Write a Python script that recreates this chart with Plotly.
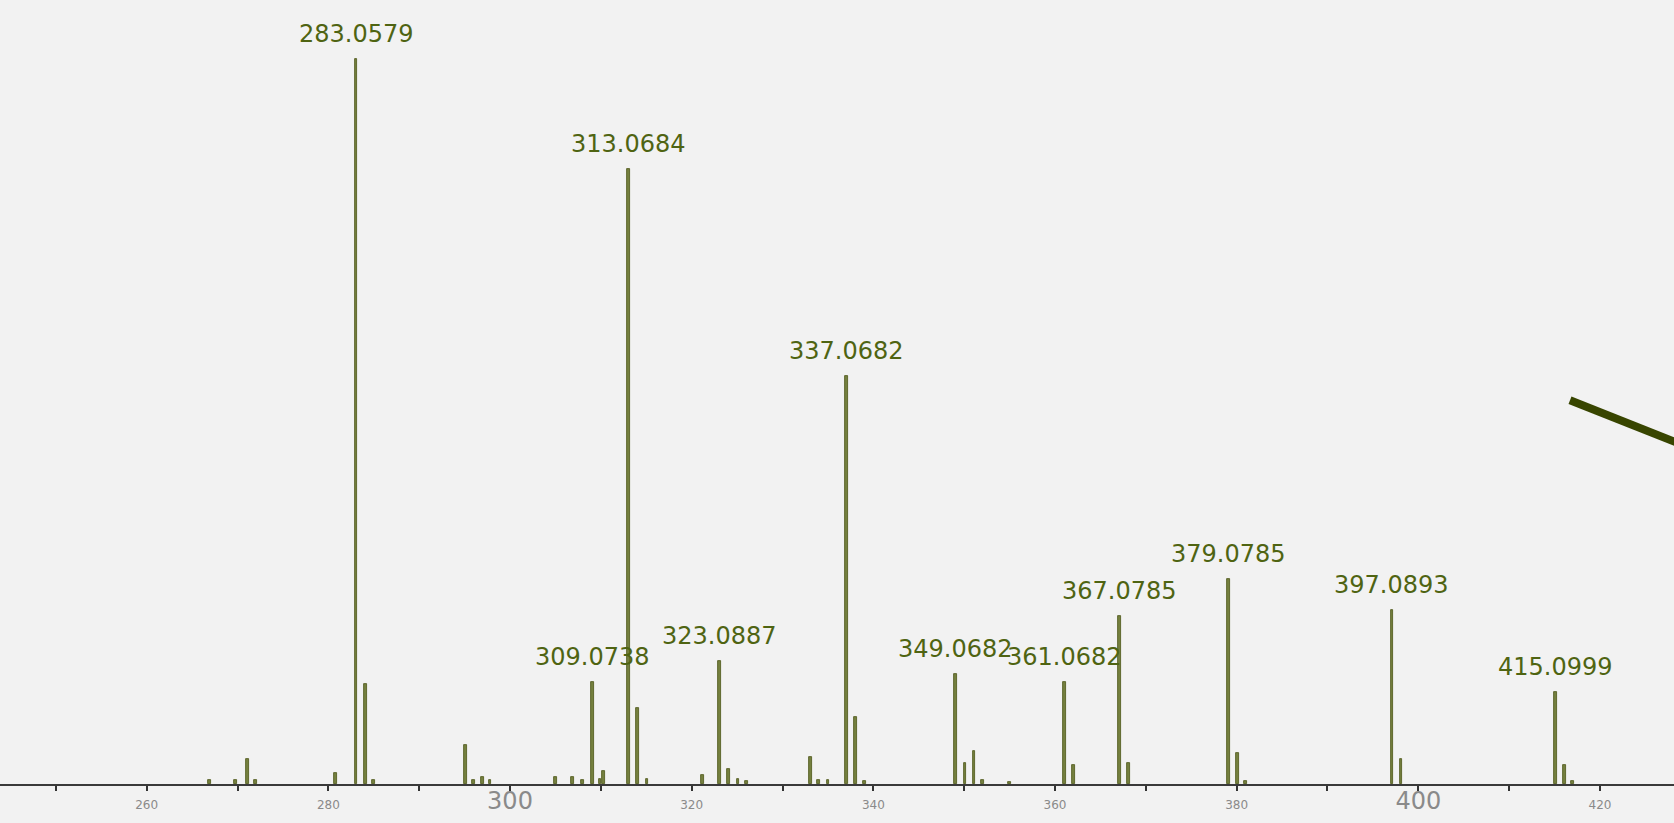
import plotly.graph_objects as go

# labelled peaks (m/z, relative intensity)
main_mz = [283.0579, 309.0738, 313.0684, 323.0887, 337.0682, 349.0682,
           361.0682, 367.0785, 379.0785, 397.0893, 415.0999]
main_int = [100, 14.1, 84.8, 17.0, 56.3, 15.1, 14.1, 23.2, 28.2, 24.0, 12.7]
main_lbl = ['283.0579', '309.0738', '313.0684', '323.0887', '337.0682', '349.0682',
            '361.0682', '367.0785', '379.0785', '397.0893', '415.0999']

# small unlabelled peaks / isotopes
minor_mz = [266.9, 269.8, 271.1, 272.0, 280.8, 284.06, 285.0, 295.1, 296.0,
            297.0, 297.8, 305.0, 306.9, 308.0, 310.3, 309.9, 314.07, 315.07,
            321.2, 324.09, 325.1, 326.0, 333.1, 334.0, 335.0, 338.07, 339.0,
            350.1, 351.07, 352.0, 355.0, 362.07, 368.08, 380.08, 381.0,
            398.09, 416.1, 417.0]
minor_int = [0.6, 0.6, 3.4, 0.5, 1.5, 13.8, 0.6, 5.4, 0.5,
             1.0, 0.5, 1.0, 1.0, 0.5, 1.8, 0.7, 10.5, 0.7,
             1.3, 2.1, 0.7, 0.4, 3.7, 0.6, 0.6, 9.2, 0.4,
             2.9, 4.5, 0.6, 0.3, 2.6, 2.9, 4.3, 0.4,
             3.4, 2.6, 0.4]

tick_vals = list(range(250, 430, 10))
tick_big = [300, 400]

# pointer line at right edge
pointer_x = [416.7, 430.0]
pointer_y = [52.9, 46.3]

ticktext = []
for v in tick_vals:
    if v % 20:
        ticktext.append('')
    elif v in tick_big:
        ticktext.append('<span style="font-size:24px">%d</span>' % v)
    else:
        ticktext.append(str(v))

fig = go.Figure()

fig.add_trace(go.Bar(x=main_mz + minor_mz, y=main_int + minor_int, width=0.3,
                     marker=dict(color='#75803f', line=dict(color='#4b5515', width=0.8)),
                     showlegend=False))

fig.add_trace(go.Scatter(x=pointer_x, y=pointer_y, mode='lines',
                         line=dict(color='#384500', width=8), showlegend=False))

for mz, h, t in zip(main_mz, main_int, main_lbl):
    fig.add_annotation(x=mz, y=h, text=t, showarrow=False, yanchor='middle', yshift=25,
                       font=dict(family='DejaVu Sans', size=24, color='#4f6412'))

fig.update_layout(
    width=1674, height=823,
    margin=dict(l=0, r=0, t=0, b=39),
    paper_bgcolor='#f2f2f2', plot_bgcolor='#f2f2f2',
    bargap=0,
    xaxis=dict(range=[243.85, 428.15], showgrid=False, zeroline=False,
               showline=True, linecolor='#3a3a3a', linewidth=2,
               ticks='outside', ticklen=5, tickwidth=2, tickcolor='#333333',
               tickvals=tick_vals, ticktext=ticktext, ticklabelstandoff=4,
               tickfont=dict(family='DejaVu Sans', size=12, color='#8a8a8a')),
    yaxis=dict(range=[0, 108.1], visible=False, showgrid=False, zeroline=False),
)

# drop the browser's default body margin so the chart fills the window
fig.write_html("out.html", config={'displayModeBar': False},
               post_script="document.body.style.margin='0';document.body.style.overflow='hidden';")
